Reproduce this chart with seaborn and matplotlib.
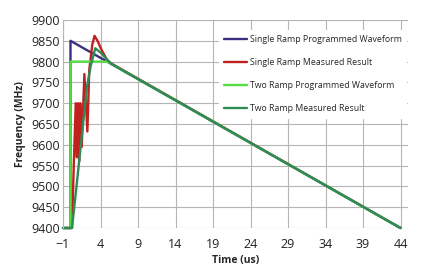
import matplotlib
matplotlib.use("Agg")
import matplotlib.pyplot as plt
import seaborn as sns
import pandas as pd

# ---- data ----
single_prog_t = [-1, 0, 0, 0, 44]
single_prog_f = [9400, 9400, 9800, 9850, 9400]

single_meas_t = [-1, 0.2, 0.45, 0.7, 0.85, 1.0, 1.15, 1.3, 1.5, 1.85, 2.25, 2.5, 2.9, 3.2, 3.6, 4.2, 5.0, 44]
single_meas_f = [9400, 9400, 9560, 9700, 9570, 9700, 9560, 9700, 9595, 9770, 9632, 9780, 9840, 9862, 9850, 9826, 9800, 9400]

two_prog_t = [-1, 0, 0, 4.9, 44]
two_prog_f = [9400, 9400, 9800, 9800, 9400]

two_meas_t = [-1, 0.2, 0.8, 1.5, 2.2, 2.7, 3.3, 4.0, 4.7, 5.5, 44]
two_meas_f = [9400, 9400, 9500, 9620, 9740, 9790, 9832, 9822, 9808, 9794, 9400]

series_names = ["Single Ramp Programmed Waveform", "Single Ramp Measured Result",
                "Two Ramp Programmed Waveform", "Two Ramp Measured Result"]
colors = ["#3d2f80", "#c0201e", "#55dd44", "#2e8b57"]

x_ticks = [-1, 4, 9, 14, 19, 24, 29, 34, 39, 44]
y_ticks = [9400, 9450, 9500, 9550, 9600, 9650, 9700, 9750, 9800, 9850, 9900]

frames = []
for name, t, f in zip(series_names,
                      [single_prog_t, single_meas_t, two_prog_t, two_meas_t],
                      [single_prog_f, single_meas_f, two_prog_f, two_meas_f]):
    frames.append(pd.DataFrame({"t": t, "f": f, "series": name, "order": range(len(t))}))
df = pd.concat(frames, ignore_index=True)

sns.set_style("white")
plt.rcParams['font.family'] = ['Open Sans', 'DejaVu Sans']

fig = plt.figure(figsize=(4.3, 2.73), dpi=100)
ax = fig.add_axes([63/430, 1-228/273, (408-63)/430, (228-20)/273])

for name, c in zip(series_names, colors):
    sub = df[df.series == name]
    sns.lineplot(data=sub, x="t", y="f", sort=False, estimator=None, color=c,
                 lw=1.7, ax=ax, label=name, clip_on=False)

ax.set_xlim(-1, 45)
ax.set_ylim(9400, 9900)
ax.set_xticks(x_ticks)
ax.set_yticks(y_ticks)
ax.grid(True, color="#b5b5b5", lw=0.8)
ax.set_axisbelow(True)
for s in ["top", "right", "bottom"]:
    ax.spines[s].set_visible(False)
ax.spines["left"].set_color("#b5b5b5")
ax.spines["left"].set_linewidth(0.8)
ax.tick_params(axis="both", length=0, labelsize=9, colors="#222222")
ax.tick_params(axis="y", pad=2)
ax.tick_params(axis="x", pad=7)
ax.set_xlabel("Time (us)", fontsize=7.5, fontweight="bold", labelpad=3)
ax.set_ylabel("Frequency (MHz)", fontsize=7.5, fontweight="bold", labelpad=4)

leg = ax.legend(loc="upper left", bbox_to_anchor=((215-63)/345, 1-6/208),
                frameon=True, fontsize=6.3, handlelength=2.6, handletextpad=0.3,
                labelspacing=1.6, borderpad=0.55, fancybox=False)
leg.get_frame().set_edgecolor("white")
leg.get_frame().set_facecolor("white")
leg.get_frame().set_alpha(1)

fig.savefig("out.png", dpi=100)
